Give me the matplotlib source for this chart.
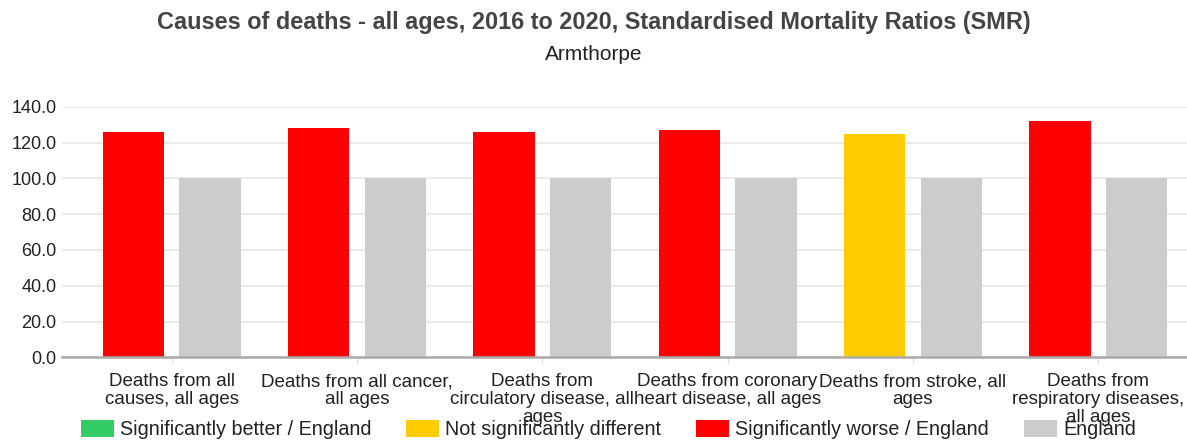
import matplotlib
matplotlib.use("Agg")
import matplotlib.pyplot as plt
from matplotlib.patches import Patch
import numpy as np

plt.rcParams['font.family'] = ['Liberation Sans', 'DejaVu Sans']

title = "Causes of deaths - all ages, 2016 to 2020, Standardised Mortality Ratios (SMR)"
subtitle = "Armthorpe"
categories = [
    "Deaths from all\ncauses, all ages",
    "Deaths from all cancer,\nall ages",
    "Deaths from\ncirculatory disease, all\nages",
    "Deaths from coronary\nheart disease, all ages",
    "Deaths from stroke, all\nages",
    "Deaths from\nrespiratory diseases,\nall ages",
]
area_values = [126, 128, 126, 127, 125, 132]
england_values = [100, 100, 100, 100, 100, 100]
area_status = ["worse", "worse", "worse", "worse", "similar", "worse"]
yticks = [0, 20, 40, 60, 80, 100, 120, 140]

status_colors = {"better": "#33cc66", "similar": "#ffcc00", "worse": "#ff0000"}
england_color = "#cccccc"
legend_labels = ["Significantly better / England", "Not significantly different",
                 "Significantly worse / England", "England"]
legend_colors = [status_colors["better"], status_colors["similar"],
                 status_colors["worse"], england_color]

W, H = 1187, 441
fig = plt.figure(figsize=(W / 100, H / 100), dpi=100)
ax = fig.add_axes([62 / W, 83.7 / H, 1125 / W, 250.6 / H])

x = np.arange(len(categories))
bw = 0.332
off = 0.207
ax.bar(x - off, area_values, bw, color=[status_colors[s] for s in area_status], zorder=3)
ax.bar(x + off, england_values, bw, color=england_color, zorder=3)

ax.set_xlim(-0.592, 5.479)
ax.set_ylim(0, 140)
ax.set_yticks(yticks)
ax.set_yticklabels([f"{v:.1f}" for v in yticks])
ax.set_xticks(x)
ax.set_xticklabels(categories, linespacing=1.08)

ax.grid(axis='y', color='#e6e6e6', linewidth=1.2, zorder=0)
ax.set_axisbelow(True)
for s in ['top', 'right', 'left']:
    ax.spines[s].set_visible(False)
ax.spines['bottom'].set_color('#aaaaaa')
ax.spines['bottom'].set_linewidth(1.8)
ax.spines['bottom'].set_zorder(4)

ax.tick_params(axis='y', length=0, pad=4, labelsize=13, labelcolor='#222222')
ax.tick_params(axis='x', length=4, width=1, color='#dddddd', pad=7.5,
               labelsize=13.5, labelcolor='#222222')

fig.text(0.5, 1 - 22 / H, title, ha='center', va='center', fontsize=16.95,
         fontweight='bold', color='#444444')
fig.text(0.5, 1 - 55 / H, subtitle, ha='center', va='center', fontsize=15,
         color='#222222')

handles = [Patch(facecolor=c, edgecolor='none') for c in legend_colors]
fs = 14.2
fpx = fs * 100 / 72
leg = fig.legend(handles, legend_labels, loc='lower left',
                 bbox_to_anchor=(80.7 / W, 1.7 / H), ncol=4, frameon=False,
                 fontsize=fs, borderpad=0, borderaxespad=0,
                 handlelength=33 / fpx, handleheight=20 / fpx,
                 handletextpad=6 / fpx, columnspacing=35 / fpx)
for t in leg.get_texts():
    t.set_color('#222222')

fig.savefig("out.png", dpi=100)
